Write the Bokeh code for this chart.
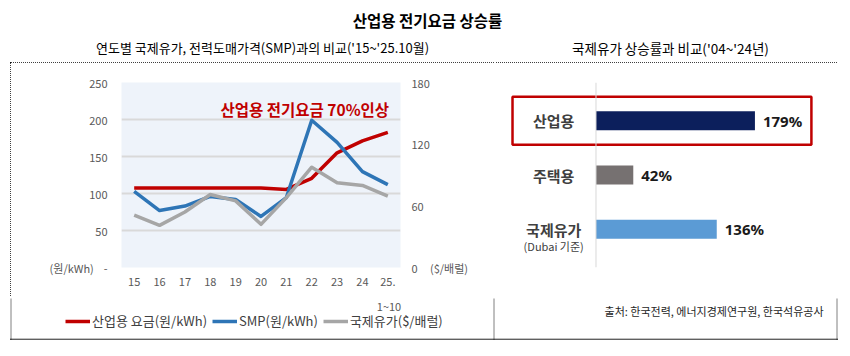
import numpy as np
from bokeh.plotting import figure
from bokeh.models import (Range1d, LinearAxis, FixedTicker, Label, Legend, LegendItem,
                          Span, ColumnDataSource, FactorRange, Spacer)
from bokeh.layouts import column, row
from bokeh.embed import file_html
from bokeh.resources import INLINE
from bokeh.core.properties import value

# ---------------- data ----------------
years = [15, 16, 17, 18, 19, 20, 21, 22, 23, 24, 25]
year_labels = ["15", "16", "17", "18", "19", "20", "21", "22", "23", "24", "25."]
last_period_note = "1~10"
industrial_rate = [107.5, 107.5, 107.5, 107.5, 107.5, 107.5, 105.5, 120.5, 155, 171, 182.5]
smp = [103, 77, 83, 96, 92, 69, 94.5, 199, 169, 129.5, 112]
oil_price = [51, 41, 54, 71, 64.8, 42, 68, 97.6, 82.4, 79.8, 69.4]
series_names = ["산업용 요금(원/kWh)", "SMP(원/kWh)", "국제유가($/배럴)"]
left_ticks = [0, 50, 100, 150, 200, 250]
left_tick_labels = ["(원/kWh)\u00a0\u00a0\u00a0\u00a0-", "50", "100", "150", "200", "250"]
right_ticks = [0, 60, 120, 180]
right_tick_labels = ["0\u00a0\u00a0\u00a0\u00a0\u00a0($/배럴)", "60", "120", "180"]

bar_categories = ["산업용", "주택용", "국제유가"]
bar_values = [179, 42, 136]
bar_labels = ["179%", "42%", "136%"]
bar_sublabels = ["", "", "(Dubai 기준)"]
bar_colors = ["#0c1f5c", "#767171", "#5b9bd5"]
source_note = "출처: 한국전력, 에너지경제연구원, 한국석유공사"

KFONT = "Noto Sans CJK KR"
LINE_COLORS = ["#c00000", "#2e75b6", "#a6a6a6"]
DOT = {"outline": "1px dotted #000000", "outline-offset": "-1px"}

# ---------------- title strip ----------------
top = figure(width=850, height=62, x_range=Range1d(0, 850), y_range=Range1d(62, 0),
             output_backend="svg", toolbar_location=None, min_border=0,
             x_axis_location=None, y_axis_location=None)
top.grid.visible = False
top.outline_line_color = None
top.text(x=[427], y=[19], text=["산업용 전기요금 상승률"], text_align="center",
         text_baseline="middle", text_font=value(KFONT), text_font_size="15.5px",
         text_font_style="bold", text_color="#000000")
top.text(x=[262], y=[47], text=["연도별 국제유가, 전력도매가격(SMP)과의 비교('15~'25.10월)"],
         text_align="center", text_baseline="middle", text_font=value(KFONT),
         text_font_size="13px", text_color="#000000")
top.text(x=[670], y=[47], text=["국제유가 상승률과 비교('04~'24년)"],
         text_align="center", text_baseline="middle", text_font=value(KFONT),
         text_font_size="13.5px", text_color="#000000")

# ---------------- left: line chart ----------------
left = figure(width=484, height=236, x_range=Range1d(14.5, 25.5), y_range=Range1d(0, 250),
              output_backend="svg", toolbar_location=None,
              min_border_left=111, min_border_right=94, min_border_top=20, min_border_bottom=31,
              styles=dict(DOT, **{"clip-path": "inset(0px 0px 1px 0px)"}))
left.background_fill_color = "#eef3fa"
left.outline_line_color = None
left.xgrid.visible = False
left.ygrid.ticker = FixedTicker(ticks=left_ticks)
left.ygrid.grid_line_color = "#d9d9d9"
left.ygrid.grid_line_width = 2
left.extra_y_ranges = {"oil": Range1d(0, 180)}

left.xaxis.ticker = FixedTicker(ticks=years)
left.xaxis.major_label_overrides = dict(zip(years, year_labels))
left.yaxis.ticker = FixedTicker(ticks=left_ticks)
left.yaxis.major_label_overrides = dict(zip(left_ticks, left_tick_labels))
ra = LinearAxis(y_range_name="oil", ticker=FixedTicker(ticks=right_ticks),
                major_label_overrides=dict(zip(right_ticks, right_tick_labels)))
left.add_layout(ra, "right")
for ax in (left.xaxis[0], left.yaxis[0], ra):
    ax.axis_line_color = None
    ax.major_tick_line_color = None
    ax.minor_tick_line_color = None
    ax.major_tick_out = 0
    ax.major_tick_in = 0
    ax.minor_tick_out = 0
    ax.major_label_text_font = KFONT
    ax.major_label_text_font_size = "11px"
    ax.major_label_text_color = "#595959"
left.xaxis.major_label_standoff = 10
left.yaxis.major_label_standoff = 14
ra.major_label_standoff = 11

left.line(years, industrial_rate, line_color=LINE_COLORS[0], line_width=3.5, line_join="round")
left.line(years, smp, line_color=LINE_COLORS[1], line_width=3.5, line_join="round")
left.line(years, oil_price, line_color=LINE_COLORS[2], line_width=3.5, line_join="round",
          y_range_name="oil")

left.add_layout(Label(x=25.05, y=214, text="산업용 전기요금 70%인상", text_align="right",
                      text_baseline="middle", text_font=KFONT, text_font_size="15.5px",
                      text_font_style="bold", text_color="#c00000"))

# ---------------- right: bar chart ----------------
right = figure(width=343, height=236, x_range=Range1d(-101.9, 264.1),
               y_range=FactorRange(factors=bar_categories[::-1], range_padding=0.1367),
               output_backend="svg", toolbar_location=None,
               min_border_left=11, min_border_right=7, min_border_top=20, min_border_bottom=31,
               x_axis_location=None, y_axis_location=None,
               styles=dict(DOT, **{"clip-path": "inset(0px 0px 1px 1px)"}))
right.grid.visible = False
right.outline_line_color = None

src = ColumnDataSource(dict(cat=bar_categories, val=bar_values, lab=bar_labels,
                            sub=bar_sublabels, col=bar_colors))
right.add_layout(Span(location=0, dimension="height", line_color="#d9d9d9", line_width=1))
right.hbar(y="cat", left=0, right="val", height=0.35, fill_color="col", line_color=None, source=src)
right.hbar(y=[bar_categories[0]], left=-94, right=242.6, height=0.884, fill_color=None,
           line_color="#c00000", line_width=2.5)
right.text(x="val", y="cat", text="lab", source=src, x_offset=8, text_align="left",
           text_baseline="middle", text_font=value("Noto Sans"), text_font_size="15px",
           text_font_style="bold", text_color="#1a1a1a")
right.text(x=-47.6, y="cat", text="cat", source=src, text_align="center",
           text_baseline="middle", text_font=value(KFONT), text_font_size="15px",
           text_font_style="bold", text_color="#404040")
right.text(x=-47.6, y="cat", text="sub", source=src, y_offset=17, text_align="center",
           text_baseline="middle", text_font=value(KFONT), text_font_size="11px",
           text_color="#404040")

# ---------------- bottom strip: legend, notes, frame edges ----------------
bot = figure(width=850, height=58, x_range=Range1d(0, 850), y_range=Range1d(58, 0),
             output_backend="svg", toolbar_location=None, min_border=0,
             x_axis_location=None, y_axis_location=None)
bot.grid.visible = False
bot.outline_line_color = None
bot.text(x=[388.5], y=[7], text=[last_period_note], text_align="center", text_baseline="middle",
         text_font=value(KFONT), text_font_size="11px", text_color="#595959")
bot.text(x=[823], y=[12], text=[source_note], text_align="right", text_baseline="middle",
         text_font=value(KFONT), text_font_size="11px", text_color="#262626")
bot.multi_line(xs=[[10.5, 10.5], [493.5, 493.5], [836.5, 836.5]],
               ys=[[0, 41], [0, 41], [0, 41]],
               line_color="#000000", line_width=1, line_dash="1 1")
bot.segment(x0=[10, 10], y0=[40.5, 41], x1=[837, 837], y1=[40.5, 41],
            line_color="#000000", line_width=1, line_dash="1 1")
nan_pair = [np.nan, np.nan]
keys = [bot.line(x=nan_pair, y=nan_pair, line_color=c, line_width=3.5) for c in LINE_COLORS]
legend = Legend(items=[LegendItem(label=n, renderers=[k]) for n, k in zip(series_names, keys)],
                orientation="horizontal", location=(65, 26), padding=0, margin=0,
                spacing=5, glyph_width=25, glyph_height=14, label_standoff=2,
                label_text_font=KFONT, label_text_font_size="13px", label_text_color="#404040",
                border_line_color=None, background_fill_alpha=0)
bot.add_layout(legend)

layout = column(top,
                row(Spacer(width=10, height=236), left, right, Spacer(width=13, height=236),
                    spacing=0),
                bot, spacing=0)
open("out.html", "w").write(file_html(layout, INLINE))
